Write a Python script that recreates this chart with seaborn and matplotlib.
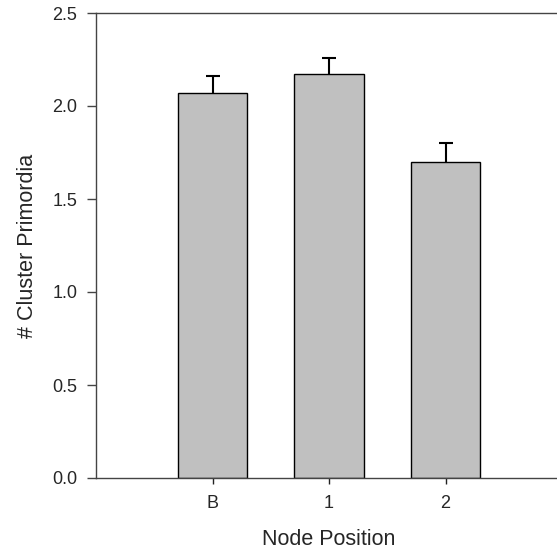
import pandas as pd
import numpy as np
import matplotlib
matplotlib.use("Agg")
import matplotlib.pyplot as plt
import seaborn as sns

# === Data ===
nodes = ["B", "1", "2"]
mean_primordia = [2.07, 2.17, 1.70]
sem_primordia = [0.09, 0.09, 0.10]

df = pd.DataFrame({"Node": nodes, "Primordia": mean_primordia, "SEM": sem_primordia})

sns.set_style("ticks")
plt.rcParams["font.family"] = ["Liberation Sans", "DejaVu Sans"]

fig = plt.figure(figsize=(5.57, 5.60), dpi=100)
ax = fig.add_axes([96 / 557, 82 / 560, 466 / 557, 465 / 560])

sns.barplot(
    data=df, x="Node", y="Primordia", order=nodes,
    color="#c0c0c0", edgecolor="black", linewidth=1.0,
    width=0.6, errorbar=None, saturation=1, ax=ax
)

# upper-only error bars (hide the cap sitting on the bar top)
eb = ax.errorbar(
    np.arange(len(nodes)), df["Primordia"],
    yerr=[np.zeros(len(nodes)), df["SEM"]],
    fmt="none", ecolor="black", elinewidth=1.5, capsize=4.7, capthick=1.5
)
eb[1][0].set_visible(False)

ax.set_xlim(-1, 3)
ax.set_ylim(0, 2.5)
ax.set_yticks([0.0, 0.5, 1.0, 1.5, 2.0, 2.5])
ax.set_yticklabels(["0.0", "0.5", "1.0", "1.5", "2.0", "2.5"])

ax.set_xlabel("Node Position", fontsize=15.5, labelpad=12)
ax.set_ylabel("# Cluster Primordia", fontsize=15.5, labelpad=10)

ax.tick_params(axis="y", direction="out", length=6.5, width=1, color="#444444", labelsize=13, pad=7)
ax.tick_params(axis="x", direction="out", length=4.3, width=1, color="#222222", labelsize=13, pad=8)

for side in ["left", "top", "bottom"]:
    ax.spines[side].set_color("#444444")
    ax.spines[side].set_linewidth(1.0)
ax.spines["right"].set_visible(False)

fig.savefig("out.png", dpi=100)
